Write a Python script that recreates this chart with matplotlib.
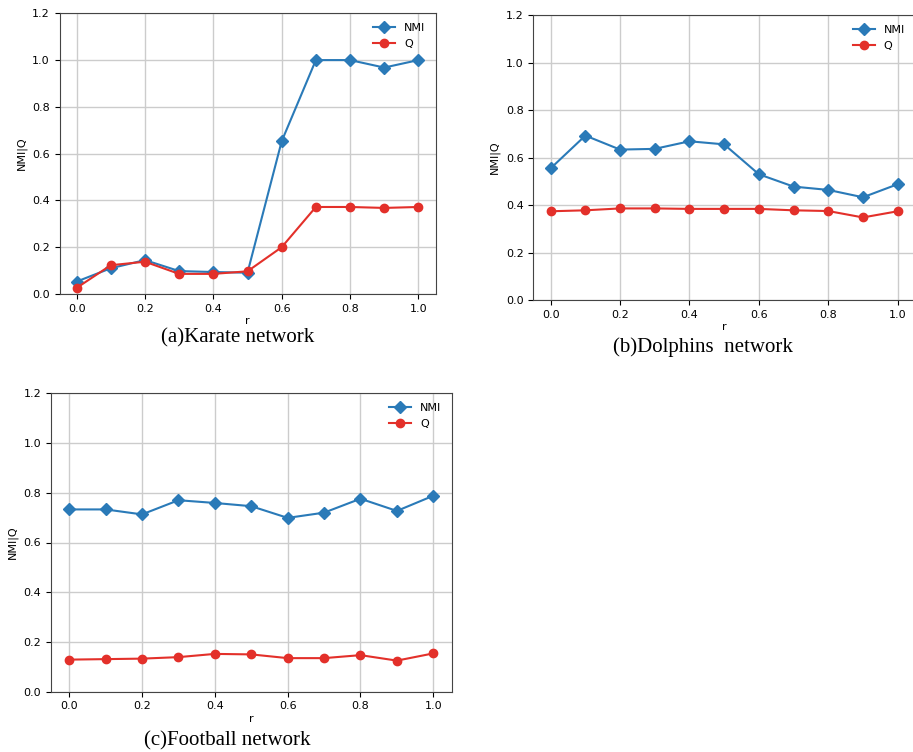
import matplotlib
matplotlib.use("Agg")
import matplotlib.pyplot as plt

r = [0.0, 0.1, 0.2, 0.3, 0.4, 0.5, 0.6, 0.7, 0.8, 0.9, 1.0]

karate_nmi = [0.053, 0.11, 0.145, 0.098, 0.094, 0.091, 0.653, 1.0, 1.0, 0.968, 1.0]
karate_q = [0.026, 0.123, 0.138, 0.086, 0.086, 0.097, 0.2, 0.372, 0.372, 0.368, 0.372]

dolphins_nmi = [0.555, 0.693, 0.634, 0.637, 0.669, 0.656, 0.53, 0.478, 0.464, 0.433, 0.488]
dolphins_q = [0.374, 0.378, 0.386, 0.386, 0.384, 0.384, 0.384, 0.378, 0.375, 0.348, 0.374]

football_nmi = [0.733, 0.733, 0.713, 0.770, 0.759, 0.746, 0.699, 0.72, 0.776, 0.727, 0.788]
football_q = [0.129, 0.131, 0.133, 0.139, 0.152, 0.150, 0.135, 0.135, 0.147, 0.125, 0.154]

captions = ["(a)Karate network", "(b)Dolphins  network", "(c)Football network"]

W, H = 913, 752
NMI_COLOR = "#2a7ab8"
Q_COLOR = "#e3302a"


def make_axes(fig, left, top, right, bottom):
    """axes from pixel box (top-left origin)"""
    return fig.add_axes([left / W, 1 - bottom / H, (right - left) / W, (bottom - top) / H])


def draw_panel(ax, nmi, q):
    ax.plot(r, nmi, color=NMI_COLOR, marker="D", markersize=6, linewidth=1.5, label="NMI")
    ax.plot(r, q, color=Q_COLOR, marker="o", markersize=6, linewidth=1.5, label="Q")
    ax.set_ylim(0, 1.2)
    ax.set_xlim(-0.05, 1.05)
    ax.set_xticks([0.0, 0.2, 0.4, 0.6, 0.8, 1.0])
    ax.set_yticks([0.0, 0.2, 0.4, 0.6, 0.8, 1.0, 1.2])
    ax.tick_params(labelsize=8)
    ax.grid(True, color="#cccccc", linewidth=1)
    ax.set_xlabel("r", fontsize=8, labelpad=2)
    ax.set_ylabel("NMI|Q", fontsize=8)
    ax.legend(loc="upper right", frameon=False, fontsize=8)
    for s in ax.spines.values():
        s.set_color("#444444")


fig = plt.figure(figsize=(W / 100, H / 100), dpi=100)

# (a) karate
ax1 = make_axes(fig, 59.5, 13.3, 435.5, 294)
draw_panel(ax1, karate_nmi, karate_q)
fig.text(238 / W, 1 - 338 / H, captions[0], ha="center", va="center",
         fontsize=15, family="Liberation Serif")

# (b) dolphins, right edge goes past the figure
ax2 = make_axes(fig, 533.3, 15.3, 915, 300)
draw_panel(ax2, dolphins_nmi, dolphins_q)
fig.text(703 / W, 1 - 347 / H, captions[1], ha="center", va="center",
         fontsize=15, family="Liberation Serif")

# (c) football
ax3 = make_axes(fig, 51, 393.3, 451.5, 691.7)
draw_panel(ax3, football_nmi, football_q)
fig.text(227 / W, 1 - 741 / H, captions[2], ha="center", va="center",
         fontsize=15, family="Liberation Serif")

fig.savefig("out.png", dpi=100)
